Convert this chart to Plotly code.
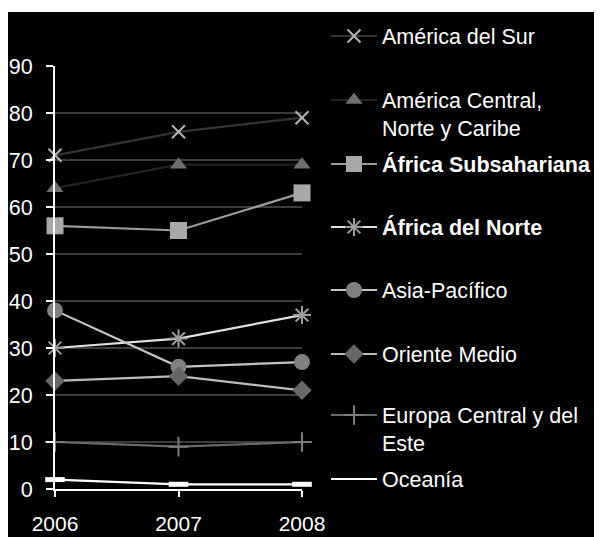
import plotly.graph_objects as go

# data
years = ["2006", "2007", "2008"]
america_sur = [71, 76, 79]
america_central = [64, 69, 69]
africa_subsahariana = [56, 55, 63]
africa_norte = [30, 32, 37]
asia_pacifico = [38, 26, 27]
oriente_medio = [23, 24, 21]
europa_central = [10, 9, 10]
oceania = [2, 1, 1]

names = [
    "América del Sur",
    "América Central,<br>Norte y Caribe",
    "<b>África Subsahariana</b>",
    "<b>África del Norte</b>",
    "Asia-Pacífico",
    "Oriente Medio",
    "Europa Central y del<br>Este",
    "Oceanía",
]
values = [america_sur, america_central, africa_subsahariana, africa_norte,
          asia_pacifico, oriente_medio, europa_central, oceania]

# line colour, marker symbol, marker colour, marker size
styles = [
    ("#343434", "x-thin-open", "#b4b4b4", 13),
    ("#222222", "triangle-up", "#6e6e6e", 15),
    ("#9a9a9a", "square", "#a8a8a8", 17),
    ("#e0e0e0", "asterisk-open", "#9c9c9c", 15),
    ("#c4c4c4", "circle", "#808080", 16),
    ("#bcbcbc", "diamond", "#666666", 15),
    ("#6a6a6a", "cross-thin-open", "#7c7c7c", 14),
    ("#ffffff", "line-ew-open", "#ffffff", 14),
]

# legend symbol centres, pixels from the top of the window
legend_rows = [36, 101, 164, 227, 290, 354, 416, 479]

# the page body adds an 8px margin, so the figure is 8px smaller
OFF = 8
W, H = 602 - OFF, 537 - OFF
L, T = 55 - OFF, 66 - OFF
R, B = W - (302 - OFF), H - (489 - OFF)
pw, ph = W - L - R, H - T - B


def px_x(p):
    # window pixel -> paper fraction
    return (p - OFF - L) / pw


def px_y(p):
    return (H - B - (p - OFF)) / ph


FONT = "Liberation Sans, Arial, Helvetica, sans-serif"
FS = 21.5
ITEMW = 46

fig = go.Figure()
layout_legends = {}
for i, (name, vals, st) in enumerate(zip(names, values, styles)):
    lc, sym, mc, ms = st
    key = "legend" if i == 0 else "legend%d" % (i + 1)
    is_oceania = sym.startswith("line")
    open_sym = sym.endswith("-open")
    marker = dict(symbol=sym, size=ms, color=mc,
                  line=dict(color=mc, width=5 if is_oceania else (2 if open_sym else 0)))
    fig.add_trace(go.Scatter(
        x=years, y=vals, mode="lines+markers", name=name,
        line=dict(color=lc, width=2.2), marker=marker,
        cliponaxis=False, legend=key, showlegend=not is_oceania,
    ))
    if is_oceania:
        # legend entry shows the line only
        fig.add_trace(go.Scatter(
            x=[None], y=[None], mode="lines", name=name,
            line=dict(color=lc, width=2.2), legend=key,
        ))
    two_line = "<br>" in name
    cy = legend_rows[i] + (13 if two_line else 0)
    layout_legends[key] = dict(
        x=px_x(354 - ITEMW / 2 - 5), y=px_y(cy), xanchor="left", yanchor="middle",
        bgcolor="rgba(0,0,0,0)", valign="top", itemwidth=ITEMW,
        font=dict(family=FONT, size=FS, color="white"),
    )

fig.update_layout(
    width=W, height=H,
    margin=dict(l=L, r=R, t=T, b=B, pad=0, autoexpand=False),
    paper_bgcolor="white",
    plot_bgcolor="rgba(0,0,0,0)",
    font=dict(family=FONT, size=FS, color="white"),
    **layout_legends,
    shapes=[dict(type="rect", xref="paper", yref="paper",
                 x0=px_x(6), x1=px_x(610), y0=px_y(545), y1=px_y(12),
                 fillcolor="black", line=dict(width=0), layer="below")],
)
fig.update_xaxes(
    type="category", range=[0, 2], showgrid=False, zeroline=False,
    showline=True, linecolor="white", linewidth=2,
    ticks="outside", ticklen=6, tickwidth=2, tickcolor="white",
    ticklabelstandoff=9, tickfont=dict(size=21, color="white"),
)
fig.update_yaxes(
    range=[0, 90], dtick=10, showgrid=True, gridcolor="#3c3c3c", gridwidth=2,
    zeroline=False, showline=True, linecolor="white", linewidth=2,
    ticks="outside", ticklen=7, tickwidth=2, tickcolor="white",
    ticklabelstandoff=9, tickfont=dict(size=FS, color="white"),
)

fig.write_html("out.html")
